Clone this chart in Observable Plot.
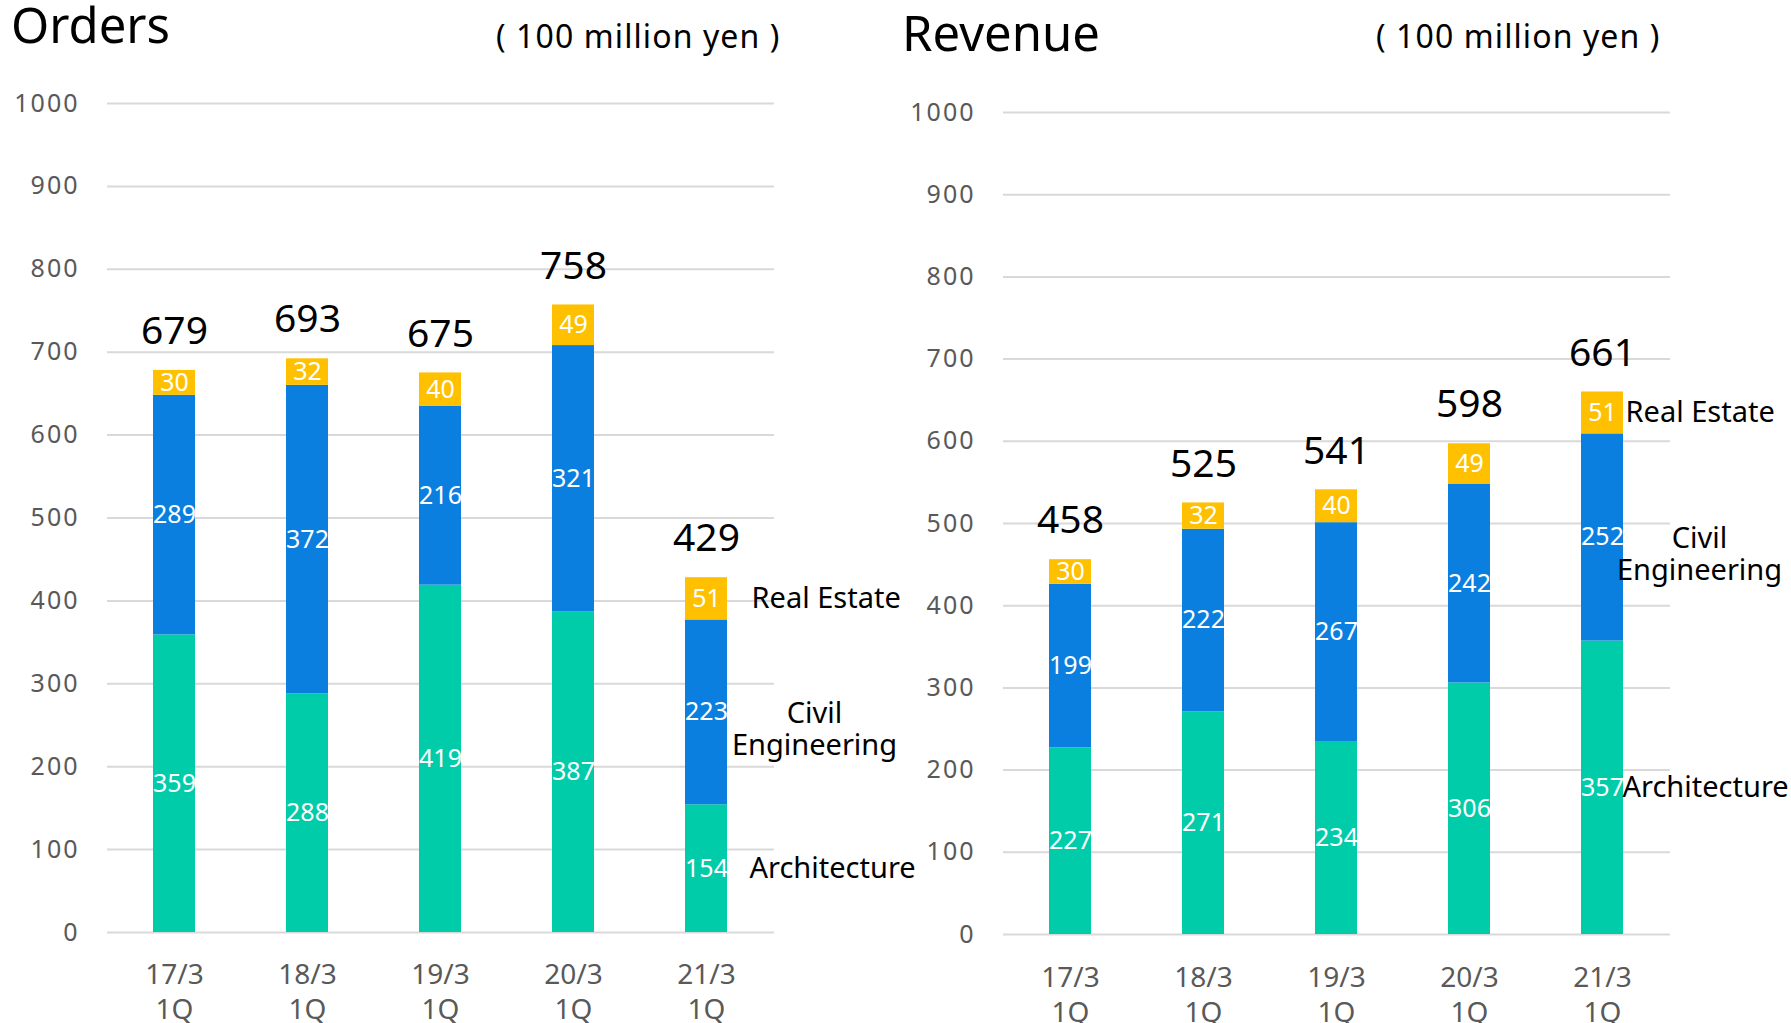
<!DOCTYPE html>
<html>
<head>
<meta charset="utf-8">
<script src="https://cdn.jsdelivr.net/npm/d3@7"></script>
<script src="https://cdn.jsdelivr.net/npm/@observablehq/plot@0.6"></script>
<style>
  html, body { margin: 0; padding: 0; background: #fff; }
  #root { position: relative; width: 1791px; height: 1023px; overflow: hidden; font-family: 'Noto Sans', sans-serif; }
  .chart { position: absolute; top: 0; }
  .title { position: absolute; font-size: 49px; line-height: 49px; color: #000; white-space: nowrap; }
  .unit { position: absolute; font-size: 32px; line-height: 32px; color: #000; white-space: nowrap; letter-spacing: 1.1px; }
  .chart svg g[aria-label="y-axis tick label"] text { letter-spacing: 2px; }
</style>
</head>
<body>
<div id="root">
  <div class="title" style="left:11px; top:0px;">Orders</div>
  <div class="unit" style="left:496px; top:20px;">( 100 million yen )</div>
  <div class="title" style="left:902px; top:8px;">Revenue</div>
  <div class="unit" style="left:1376px; top:20px;">( 100 million yen )</div>
  <div id="orders" class="chart" style="left:0px;"></div>
  <div id="revenue" class="chart" style="left:895px;"></div>
</div>
<script>
const categories = ["17/3\n1Q", "18/3\n1Q", "19/3\n1Q", "20/3\n1Q", "21/3\n1Q"];
const segments = ["Architecture", "Civil Engineering", "Real Estate"];
const segmentColors = ["#00CCAA", "#0A7FDF", "#FFC000"];
const yTicks = [0, 100, 200, 300, 400, 500, 600, 700, 800, 900, 1000];

const ordersArchitecture = [359, 288, 419, 387, 154];
const ordersCivil = [289, 372, 216, 321, 223];
const ordersRealEstate = [30, 32, 40, 49, 51];
const ordersTotal = [679, 693, 675, 758, 429];

const revenueArchitecture = [227, 271, 234, 306, 357];
const revenueCivil = [199, 222, 267, 242, 252];
const revenueRealEstate = [30, 32, 40, 49, 51];
const revenueTotal = [458, 525, 541, 598, 661];

function buildRows(arch, civil, re) {
  const rows = [];
  categories.forEach((c, i) => {
    rows.push({cat: c, seg: segments[0], value: arch[i]});
    rows.push({cat: c, seg: segments[1], value: civil[i]});
    rows.push({cat: c, seg: segments[2], value: re[i]});
  });
  return rows;
}

function makeChart(cfg) {
  const rows = buildRows(cfg.arch, cfg.civil, cfg.re);
  const totals = categories.map((c, i) => ({cat: c, total: cfg.total[i]}));
  const last = categories[categories.length - 1];
  const lastRows = rows.filter(d => d.cat === last);
  const legendMark = (seg, label, opts) =>
    Plot.text(lastRows, Plot.stackY({
      x: "cat", y: "value", z: "seg",
      text: d => d.seg === seg ? label : null,
      fontSize: 29, fill: "#000", ...opts
    }));
  return Plot.plot({
    width: 895,
    height: 1023,
    marginTop: cfg.marginTop,
    marginBottom: cfg.marginBottom,
    marginLeft: cfg.marginLeft,
    marginRight: cfg.marginRight,
    style: {fontFamily: "'Noto Sans', sans-serif", background: "transparent", overflow: "visible"},
    x: {domain: categories, paddingInner: 0.683, paddingOuter: 0.3415, axis: null},
    y: {domain: [0, 1000], axis: null},
    color: {domain: segments, range: segmentColors},
    marks: [
      Plot.ruleY(yTicks, {stroke: "#d9d9d9", strokeWidth: 2}),
      Plot.axisY(yTicks, {tickSize: 0, tickPadding: 28, fontSize: 25, fill: "#595959", tickFormat: d => String(d)}),
      Plot.barY(rows, {x: "cat", y: "value", fill: "seg", z: "seg"}),
      Plot.text(rows, Plot.stackY({x: "cat", y: "value", z: "seg", text: d => String(d.value), fill: "#fff", fontSize: 25})),
      Plot.text(totals, {x: "cat", y: "total", text: d => String(d.total), dy: -38, fontSize: 39, fill: "#000"}),
      Plot.text(categories, {x: d => d, text: d => d, frameAnchor: "bottom", dy: cfg.catDy, lineAnchor: "middle", lineHeight: 1.22, fontSize: 28, fill: "#595959"}),
      legendMark("Real Estate", "Real Estate", {textAnchor: "start", dx: cfg.reDx}),
      legendMark("Civil Engineering", "Civil\nEngineering", {textAnchor: "middle", dx: cfg.ceDx, lineAnchor: "middle", lineHeight: 1.1, dy: 16}),
      legendMark("Architecture", "Architecture", {textAnchor: "start", dx: cfg.arDx})
    ]
  });
}

document.getElementById("orders").appendChild(makeChart({
  arch: ordersArchitecture, civil: ordersCivil, re: ordersRealEstate, total: ordersTotal,
  marginTop: 103, marginBottom: 91, marginLeft: 107, marginRight: 121,
  catDy: 58, reDx: 45, ceDx: 108, arDx: 43
}));

document.getElementById("revenue").appendChild(makeChart({
  arch: revenueArchitecture, civil: revenueCivil, re: revenueRealEstate, total: revenueTotal,
  marginTop: 112, marginBottom: 89, marginLeft: 108, marginRight: 120,
  catDy: 59, reDx: 23, ceDx: 97, arDx: 20
}));
</script>
</body>
</html>
